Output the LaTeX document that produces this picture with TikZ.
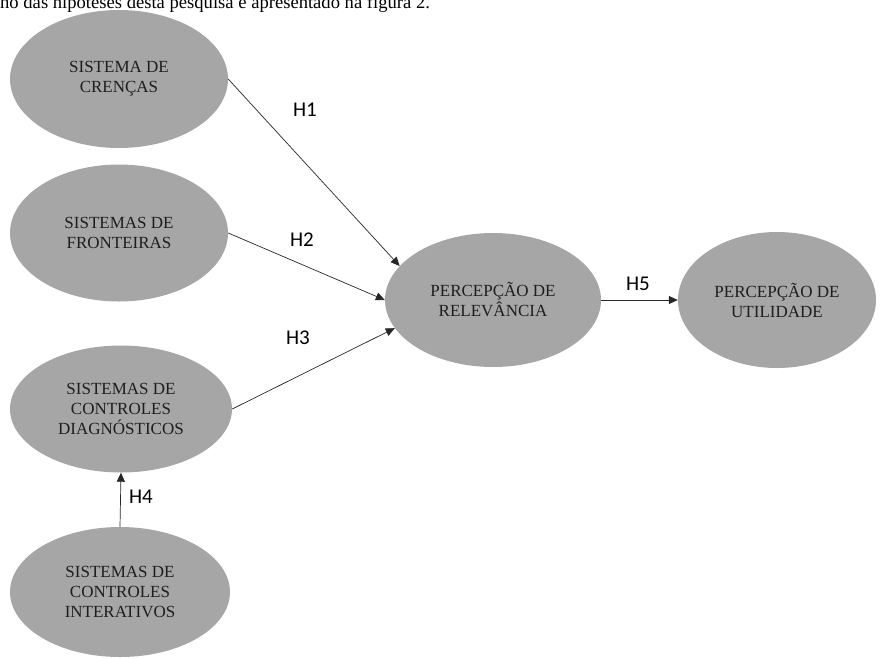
\documentclass[tikz,border=0pt]{standalone}
\usepackage{fontspec}
\setmainfont{Liberation Serif}
\newfontfamily\hfont{Carlito}
\usetikzlibrary{shapes.geometric,arrows.meta}
\definecolor{ellgray}{HTML}{A6A6A6}
\definecolor{txtdark}{HTML}{1E1E1E}
\begin{document}
\begin{tikzpicture}[x=1pt,y=-1pt,
  ell/.style={ellipse, fill=ellgray, draw=none, inner sep=0pt, align=center,
    text=txtdark, font=\fontsize{17}{20}\selectfont},
  conn/.style={-{Triangle[length=9pt,width=8pt]}, line width=0.7pt, draw=black!85},
  hlab/.style={font=\hfont\fontsize{21}{24}\selectfont, text=black}]
\useasboundingbox (0,0) rectangle (881,657);
\node[anchor=base west, inner sep=0pt, font=\fontsize{18.6}{22}\selectfont] (top) at (0,8) {ho das hipóteses desta pesquisa é apresentado na figura 2.};
\node[ell, minimum width=218pt, minimum height=138pt] (cren) at (119,79) {SISTEMA DE\\CRENÇAS};
\node[ell, minimum width=218pt, minimum height=137pt] (fron) at (119,233) {SISTEMAS DE\\FRONTEIRAS};
\node[ell, minimum width=222pt, minimum height=127pt] (diag) at (121,409) {SISTEMAS DE\\CONTROLES\\DIAGNÓSTICOS};
\node[ell, minimum width=220pt, minimum height=130pt] (inter) at (120,592) {SISTEMAS DE\\CONTROLES\\INTERATIVOS};
\node[ell, minimum width=216pt, minimum height=134pt] (rel) at (493,300) {PERCEPÇÃO DE\\RELEVÂNCIA};
\node[ell, minimum width=198pt, minimum height=136pt] (util) at (777,300) {PERCEPÇÃO DE\\UTILIDADE};
\draw[conn] (cren.east) -- (rel.160);
\draw[conn] (fron.east) -- (rel.180);
\draw[conn] (diag.east) -- (rel.196);
\draw[conn] (inter.north) -- (diag.south);
\draw[conn] (rel.east) -- (util.west);
\node[hlab] (h1) at (305,110) {H1};
\node[hlab] (h2) at (302,240) {H2};
\node[hlab] (h3) at (298,338) {H3};
\node[hlab] (h4) at (141,497) {H4};
\node[hlab] (h5) at (638,284) {H5};
\end{tikzpicture}
\end{document}
